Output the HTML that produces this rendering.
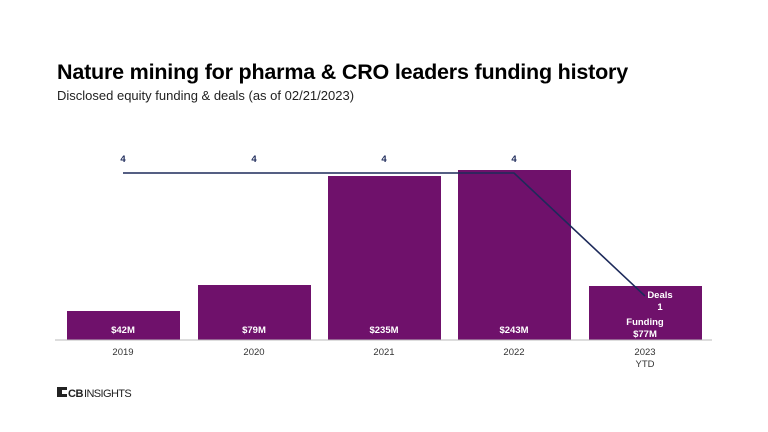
<!DOCTYPE html>
<html><head><style>
body{margin:0;width:768px;height:432px;background:#fff;font-family:"Liberation Sans",sans-serif;position:relative;overflow:hidden}
.t{position:absolute;white-space:nowrap}
</style></head><body>
<div class="t" style="left:57px;top:60px;font-size:21.5px;font-weight:bold;color:#000;letter-spacing:-0.2px">Nature mining for pharma &amp; CRO leaders funding history</div>
<div class="t" style="left:57px;top:88px;font-size:13px;color:#222">Disclosed equity funding &amp; deals (as of 02/21/2023)</div>
<svg width="768" height="432" style="position:absolute;left:0;top:0" font-family="Liberation Sans, sans-serif">
<g fill="#6f116b">
<rect x="67" y="311" width="113" height="29"/>
<rect x="198" y="285" width="113" height="55"/>
<rect x="328" y="176" width="113" height="164"/>
<rect x="458" y="170" width="113" height="170"/>
<rect x="589" y="286" width="113" height="54"/>
</g>
<line x1="55" y1="340" x2="712" y2="340" stroke="#bbb" stroke-width="1"/>
<polyline points="123,173 254,173 384,173 514,173 645,296" fill="none" stroke="#1d2a5a" stroke-width="1.6"/>
<g font-size="9.5" font-weight="bold" fill="#1d2a5a" text-anchor="middle">
<text x="123" y="162">4</text><text x="254" y="162">4</text><text x="384" y="162">4</text><text x="514" y="162">4</text>
</g>
<g font-size="9.5" font-weight="bold" fill="#fff" text-anchor="middle">
<text x="123" y="333">$42M</text><text x="254" y="333">$79M</text><text x="384" y="333">$235M</text><text x="514" y="333">$243M</text>
<text x="660" y="298">Deals</text><text x="660" y="310">1</text>
<text x="645" y="325">Funding</text><text x="645" y="337">$77M</text>
</g>
<g font-size="9.5" fill="#333" text-anchor="middle">
<text x="123" y="355">2019</text><text x="254" y="355">2020</text><text x="384" y="355">2021</text><text x="514" y="355">2022</text><text x="645" y="355">2023</text><text x="645" y="367">YTD</text>
</g>
<rect x="57" y="387" width="10" height="10" fill="#222"/>
<rect x="62" y="390" width="5" height="4" fill="#fff"/>
<text x="68" y="397" font-size="11" font-weight="bold" fill="#222" letter-spacing="-0.5">CB</text>
<text x="84" y="397" font-size="11" fill="#222" letter-spacing="-0.6">INSIGHTS</text>
</svg>
</body></html>
